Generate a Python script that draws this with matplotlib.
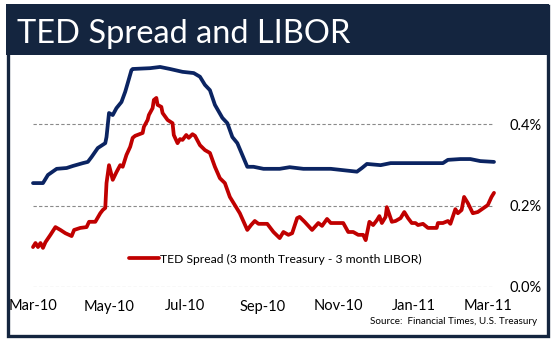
import numpy as np
import pandas as pd
import matplotlib
matplotlib.use("Agg")
import matplotlib.pyplot as plt
import matplotlib.dates as mdates
from matplotlib.patches import Rectangle

plt.rcParams['font.family'] = ['Lato', 'DejaVu Sans']

START = pd.Timestamp("2010-03-01")

# 3 month LIBOR, % (days counted from 1 Mar 2010)
libor_day = [0, 8, 12, 19, 27, 32, 40, 44, 47, 52, 58, 59, 61, 64, 67, 71, 74, 76,
             79, 80, 94, 102, 110, 120, 129, 134, 138, 142, 146, 152, 156, 160,
             164, 168, 172, 177, 185, 198, 206, 217, 239, 260, 264, 268, 279, 287,
             329, 333, 343, 351, 359, 370]
libor = [0.255, 0.255, 0.275, 0.290, 0.292, 0.297, 0.304, 0.307, 0.319, 0.341,
         0.353, 0.368, 0.427, 0.422, 0.439, 0.454, 0.479, 0.500, 0.532, 0.535,
         0.537, 0.540, 0.535, 0.528, 0.525, 0.516, 0.496, 0.483, 0.447, 0.415,
         0.402, 0.368, 0.353, 0.324, 0.295, 0.295, 0.290, 0.290, 0.294, 0.290,
         0.290, 0.283, 0.292, 0.302, 0.299, 0.304, 0.304, 0.312, 0.314, 0.314,
         0.309, 0.307]

# TED spread, %
ted_day = [0, 2, 4, 6, 8, 10, 14, 18, 22, 26, 31, 33, 38, 43, 45, 50, 54, 56, 58,
           59, 61, 64, 67, 70, 72, 75, 78, 80, 82, 88, 89, 92, 93, 96, 97, 99,
           100, 103, 104, 108, 112, 113, 116, 118, 120, 123, 125, 128, 130, 134,
           138, 142, 146, 150, 154, 158, 162, 166, 172, 175, 178, 181, 188, 193,
           198, 201, 205, 208, 212, 214, 218, 224, 229, 232, 236, 239, 249, 253,
           257, 261, 265, 267, 270, 273, 276, 278, 280, 283, 284, 288, 291, 295,
           298, 301, 304, 307, 309, 313, 317, 324, 325, 329, 333, 335, 339, 341,
           344, 346, 349, 353, 357, 365, 368, 370]
ted = [0.098, 0.108, 0.098, 0.108, 0.096, 0.110, 0.128, 0.147, 0.140, 0.132,
       0.125, 0.140, 0.145, 0.147, 0.160, 0.160, 0.181, 0.189, 0.194, 0.255,
       0.299, 0.263, 0.282, 0.299, 0.295, 0.324, 0.344, 0.366, 0.371, 0.378,
       0.393, 0.410, 0.422, 0.439, 0.459, 0.464, 0.447, 0.442, 0.427, 0.410,
       0.402, 0.373, 0.353, 0.363, 0.361, 0.373, 0.366, 0.375, 0.371, 0.348,
       0.336, 0.329, 0.295, 0.267, 0.255, 0.221, 0.201, 0.181, 0.140, 0.152,
       0.162, 0.155, 0.155, 0.135, 0.120, 0.135, 0.128, 0.132, 0.169, 0.172,
       0.160, 0.140, 0.157, 0.150, 0.167, 0.157, 0.157, 0.135, 0.135, 0.128,
       0.128, 0.115, 0.160, 0.152, 0.164, 0.174, 0.157, 0.172, 0.196, 0.160,
       0.162, 0.169, 0.184, 0.169, 0.157, 0.157, 0.152, 0.155, 0.145, 0.145,
       0.157, 0.157, 0.162, 0.155, 0.191, 0.181, 0.189, 0.221, 0.206, 0.181,
       0.184, 0.201, 0.221, 0.231]

month_ticks = ["2010-03-01", "2010-05-01", "2010-07-01", "2010-09-01",
               "2010-11-01", "2011-01-01", "2011-03-01"]
pct_ticks = [0.0, 0.2, 0.4]

NAVY = "#14253f"
W, H = 553, 340

libor_dates = START + pd.to_timedelta(libor_day, unit="D")
ted_dates = START + pd.to_timedelta(ted_day, unit="D")

fig = plt.figure(figsize=(W / 100, H / 100), dpi=100)
fig.patch.set_facecolor("white")

# frame + title bar
fig.patches.append(Rectangle((7.5 / W, 1 - 335.5 / H), 540 / W, 330 / H,
                             transform=fig.transFigure, fill=False,
                             edgecolor=NAVY, linewidth=2.4))
fig.patches.append(Rectangle((6 / W, 1 - 55 / H), 543 / W, 51 / H,
                             transform=fig.transFigure, facecolor=NAVY,
                             edgecolor="none"))
fig.text(17 / W, 1 - 43 / H, "TED Spread and LIBOR", color="white",
         fontsize=23.5, va="baseline", ha="left")

ax_left, ax_right = 33, 494
ax_top, ax_bottom = 60, 287
ax = fig.add_axes([ax_left / W, 1 - ax_bottom / H,
                   (ax_right - ax_left) / W, (ax_bottom - ax_top) / H])
ax.set_facecolor("none")

ax.plot(libor_dates, libor, color="#0b2462", lw=2.7, solid_capstyle="round",
        clip_on=False)
red, = ax.plot(ted_dates, ted, color="#c00000", lw=2.7, solid_capstyle="round",
               clip_on=False, label="TED Spread (3 month Treasury - 3 month LIBOR)")

ax.set_xlim(START, START + pd.Timedelta(days=370))
ax.set_ylim(0, (ax_bottom - ax_top) / 407.5)

ax.set_xticks(pd.to_datetime(month_ticks))
ax.xaxis.set_major_formatter(mdates.DateFormatter("%b-%y"))
ax.set_yticks(pct_ticks)
ax.set_yticklabels([f"{v:.1f}%" for v in pct_ticks])
ax.yaxis.tick_right()
ax.tick_params(axis="x", length=0, pad=9, labelsize=10.5, colors="black")
ax.tick_params(axis="y", length=0, pad=11, labelsize=10.5, colors="black")
ax.grid(axis="y", color="#8a8a8a", linestyle=(0, (3, 2)), linewidth=0.8)
ax.set_axisbelow(True)
for s in ax.spines.values():
    s.set_visible(False)

ax.legend(handles=[red], loc="center left",
          bbox_to_anchor=(129 / W, 1 - 259 / H), bbox_transform=fig.transFigure,
          frameon=False, fontsize=8.7, handlelength=2.5, handletextpad=0.1,
          borderpad=0, borderaxespad=0)

fig.text(537 / W, 1 - 322 / H, "Source:  Financial Times, U.S. Treasury",
         fontsize=7.1, ha="right", va="center")

fig.savefig("out.png", dpi=100)
